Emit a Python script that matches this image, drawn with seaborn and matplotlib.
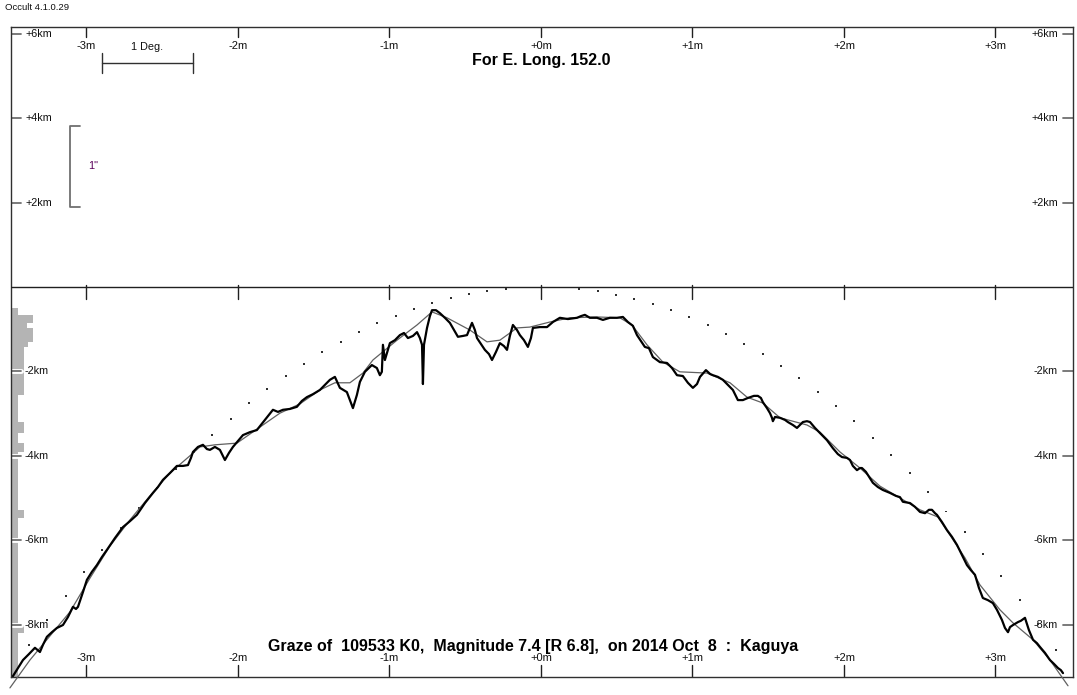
import matplotlib
matplotlib.use("Agg")
import matplotlib.pyplot as plt
import matplotlib.transforms as mtransforms
import seaborn as sns

# ---------------- data (minutes of time from central meridian / km) ----------------
prof_x = [-3.485, -3.452, -3.419, -3.380, -3.340, -3.307, -3.287, -3.261, -3.228, -3.195,
          -3.155, -3.122, -3.089, -3.069, -3.056, -3.023, -2.997, -2.964, -2.931, -2.898,
          -2.865, -2.812, -2.759, -2.713, -2.667, -2.614, -2.561, -2.528, -2.495, -2.449,
          -2.403, -2.363, -2.330, -2.310, -2.297, -2.264, -2.231, -2.205, -2.185, -2.152,
          -2.119, -2.086, -2.059, -2.033, -2.000, -1.967, -1.921, -1.875, -1.822, -1.769,
          -1.736, -1.703, -1.657, -1.611, -1.578, -1.545, -1.505, -1.459, -1.426, -1.393,
          -1.360, -1.327, -1.281, -1.241, -1.215, -1.195, -1.162, -1.116, -1.083, -1.063,
          -1.050, -1.043, -1.030, -0.997, -0.964, -0.931, -0.904, -0.878, -0.845, -0.818,
          -0.799, -0.785, -0.779, -0.772, -0.752, -0.733, -0.719, -0.693, -0.667, -0.634,
          -0.601, -0.574, -0.548, -0.515, -0.488, -0.469, -0.455, -0.436, -0.422, -0.396,
          -0.370, -0.343, -0.323, -0.297, -0.271, -0.244, -0.224, -0.205, -0.185, -0.158,
          -0.139, -0.112, -0.086, -0.066, -0.053, -0.007, 0.040, 0.079, 0.125, 0.178,
          0.238, 0.264, 0.290, 0.323, 0.370, 0.409, 0.455, 0.502, 0.541, 0.574,
          0.607, 0.634, 0.660, 0.686, 0.713, 0.739, 0.785, 0.832, 0.865, 0.898,
          0.937, 0.970, 1.003, 1.030, 1.050, 1.089, 1.116, 1.135, 1.168, 1.201,
          1.234, 1.267, 1.300, 1.333, 1.366, 1.406, 1.432, 1.452, 1.465, 1.492,
          1.512, 1.525, 1.531, 1.545, 1.578, 1.611, 1.630, 1.663, 1.690, 1.710,
          1.729, 1.756, 1.776, 1.809, 1.842, 1.888, 1.927, 1.960, 1.987, 2.020,
          2.040, 2.059, 2.086, 2.106, 2.119, 2.145, 2.172, 2.191, 2.224, 2.257,
          2.304, 2.343, 2.370, 2.389, 2.436, 2.469, 2.502, 2.535, 2.561, 2.581,
          2.601, 2.614, 2.647, 2.680, 2.713, 2.746, 2.779, 2.812, 2.838, 2.865,
          2.891, 2.917, 2.950, 2.983, 3.010, 3.043, 3.063, 3.083, 3.096, 3.116,
          3.149, 3.168, 3.195, 3.221, 3.248, 3.274, 3.294, 3.327, 3.360, 3.386,
          3.413, 3.432, 3.446]
prof_y = [-9.22, -9.03, -8.84, -8.70, -8.55, -8.65, -8.48, -8.29, -8.18, -8.08,
          -8.01, -7.82, -7.58, -7.63, -7.58, -7.23, -6.94, -6.75, -6.59, -6.40,
          -6.23, -5.95, -5.69, -5.55, -5.40, -5.12, -4.88, -4.74, -4.57, -4.41,
          -4.24, -4.24, -4.22, -4.05, -3.91, -3.79, -3.74, -3.84, -3.86, -3.79,
          -3.86, -4.10, -3.93, -3.79, -3.65, -3.51, -3.44, -3.39, -3.15, -2.91,
          -2.96, -2.91, -2.89, -2.84, -2.70, -2.61, -2.54, -2.44, -2.32, -2.20,
          -2.13, -2.39, -2.49, -2.87, -2.56, -2.25, -2.01, -1.85, -1.92, -2.09,
          -2.01, -1.37, -1.73, -1.33, -1.26, -1.14, -1.09, -1.21, -1.16, -1.07,
          -1.21, -1.37, -2.30, -1.37, -0.97, -0.69, -0.55, -0.55, -0.62, -0.73,
          -0.85, -1.02, -1.18, -1.16, -1.14, -0.97, -0.85, -1.02, -1.21, -1.35,
          -1.49, -1.59, -1.73, -1.54, -1.33, -1.40, -1.49, -1.16, -0.90, -1.02,
          -1.14, -1.26, -1.42, -1.21, -0.97, -0.95, -0.95, -0.83, -0.73, -0.76,
          -0.73, -0.69, -0.66, -0.73, -0.73, -0.78, -0.73, -0.73, -0.71, -0.83,
          -0.92, -1.14, -1.28, -1.42, -1.45, -1.66, -1.78, -1.80, -1.92, -2.09,
          -2.11, -2.27, -2.39, -2.30, -2.13, -1.97, -2.06, -2.09, -2.13, -2.20,
          -2.32, -2.44, -2.68, -2.68, -2.63, -2.58, -2.58, -2.63, -2.73, -2.87,
          -2.99, -3.10, -3.18, -3.08, -3.10, -3.15, -3.20, -3.27, -3.34, -3.27,
          -3.20, -3.18, -3.20, -3.34, -3.46, -3.63, -3.82, -3.96, -4.03, -4.05,
          -4.10, -4.24, -4.34, -4.29, -4.29, -4.38, -4.53, -4.64, -4.74, -4.81,
          -4.88, -4.95, -4.98, -5.09, -5.12, -5.21, -5.33, -5.36, -5.28, -5.28,
          -5.36, -5.40, -5.57, -5.76, -5.92, -6.11, -6.35, -6.59, -6.71, -6.82,
          -7.13, -7.37, -7.42, -7.49, -7.65, -7.89, -8.08, -8.18, -8.06, -8.01,
          -7.94, -7.91, -7.84, -8.13, -8.36, -8.44, -8.53, -8.67, -8.84, -8.93,
          -9.03, -9.08, -9.15]

smooth_x = [-3.505, -3.373, -3.241, -3.109, -2.977, -2.845, -2.713, -2.581, -2.449, -2.317,
            -2.251, -2.152, -2.007, -1.855, -1.723, -1.591, -1.459, -1.360, -1.261, -1.175,
            -1.109, -0.950, -0.818, -0.719, -0.620, -0.469, -0.356, -0.271, -0.158, -0.073,
            0.059, 0.191, 0.370, 0.521, 0.601, 0.700, 0.805, 0.917, 1.096, 1.248,
            1.360, 1.465, 1.578, 1.756, 1.842, 1.974, 2.106, 2.238, 2.370, 2.502,
            2.620, 2.700, 2.799, 2.898, 3.030, 3.116, 3.248, 3.360, 3.479]
smooth_y = [-9.50, -8.84, -8.27, -7.70, -6.90, -6.14, -5.52, -4.95, -4.41, -4.00,
            -3.79, -3.74, -3.70, -3.32, -2.99, -2.77, -2.44, -2.27, -2.27, -2.04,
            -1.73, -1.26, -0.90, -0.59, -0.73, -1.02, -1.30, -1.26, -0.97, -0.95,
            -0.83, -0.73, -0.71, -0.73, -0.90, -1.37, -1.78, -2.01, -2.04, -2.27,
            -2.61, -2.75, -3.10, -3.27, -3.44, -3.91, -4.29, -4.72, -5.00, -5.28,
            -5.45, -5.88, -6.42, -7.06, -7.65, -7.96, -8.36, -8.84, -9.45]

limb_x = [-3.380, -3.259, -3.138, -3.017, -2.896, -2.775, -2.654, -2.532, -2.411, -2.290,
          -2.169, -2.048, -1.927, -1.806, -1.685, -1.564, -1.442, -1.321, -1.200, -1.079,
          -0.958, -0.837, -0.716, -0.595, -0.474, -0.353, -0.231,
          0.253, 0.374, 0.495, 0.616, 0.737, 0.858, 0.980, 1.101, 1.222, 1.343,
          1.464, 1.585, 1.706, 1.827, 1.948, 2.069, 2.191, 2.312, 2.433, 2.554,
          2.675, 2.796, 2.917, 3.038, 3.159, 3.280, 3.402]
limb_y = [-8.49, -7.89, -7.32, -6.76, -6.23, -5.72, -5.23, -4.76, -4.32, -3.90,
          -3.50, -3.12, -2.76, -2.42, -2.11, -1.82, -1.54, -1.30, -1.07, -0.86,
          -0.68, -0.52, -0.38, -0.26, -0.17, -0.09, -0.04,
          -0.05, -0.10, -0.18, -0.28, -0.40, -0.55, -0.71, -0.90, -1.11, -1.34,
          -1.59, -1.87, -2.16, -2.48, -2.82, -3.18, -3.57, -3.97, -4.40, -4.85,
          -5.32, -5.81, -6.32, -6.86, -7.41, -7.99, -8.60]

# event-count histogram along the left edge (km bands, bar length in minutes)
hist_top = [-0.50, -0.66, -0.85, -0.97, -1.30, -1.42, -2.56, -3.20, -3.46, -3.69,
            -3.91, -5.28, -5.47, -8.00, -8.19]
hist_bot = [-0.66, -0.85, -0.97, -1.30, -1.42, -2.56, -3.20, -3.46, -3.69, -3.91,
            -5.28, -5.47, -8.00, -8.19, -9.24]
hist_len = [0.040, 0.139, 0.099, 0.139, 0.106, 0.079, 0.040, 0.079, 0.040, 0.079,
            0.040, 0.079, 0.040, 0.079, 0.040]

x_ticks = [-3, -2, -1, 0, 1, 2, 3]
x_labels = ["-3m", "-2m", "-1m", "+0m", "+1m", "+2m", "+3m"]
y_ticks_up = [6, 4, 2]
y_labels_up = ["+6km", "+4km", "+2km"]
y_ticks_dn = [-2, -4, -6, -8]
y_labels_dn = ["-2km", "-4km", "-6km", "-8km"]

title_top = "For E. Long. 152.0"
title_bottom = "Graze of  109533 K0,  Magnitude 7.4 [R 6.8],  on 2014 Oct  8  :  Kaguya"
version = "Occult 4.1.0.29"

# ---------------- figure ----------------
sns.set_theme(style="white")
plt.rcParams['font.family'] = ['Liberation Sans', 'DejaVu Sans']

W, H = 1077, 695
fig = plt.figure(figsize=(W / 100, H / 100), dpi=100)
fig.patch.set_facecolor("white")
ax = fig.add_axes([11 / W, 18 / H, 1062 / W, 650 / H])
XL, XR = -3.498, 3.512
YB, YT = -9.242, 6.161
ax.set_xlim(XL, XR)
ax.set_ylim(YB, YT)
ax.set_xticks([])
ax.set_yticks([])
ax.set_facecolor("white")
for s in ax.spines.values():
    s.set_color("#303030")
    s.set_linewidth(1.0)

axw, axh = 1062.0, 650.0
tr_xa = mtransforms.blended_transform_factory(ax.transData, ax.transAxes)
tr_ay = mtransforms.blended_transform_factory(ax.transAxes, ax.transData)

# histogram
centers = [(a + b) / 2 for a, b in zip(hist_top, hist_bot)]
heights = [a - b for a, b in zip(hist_top, hist_bot)]
ax.barh(y=centers, width=hist_len, height=heights, left=XL + 0.006,
        color="#b4b4b4", linewidth=0, zorder=1)

# centre line
ax.axhline(0, color="#202020", lw=1.0, zorder=3)

# limb dots, smoothed profile, observed profile
sns.scatterplot(x=limb_x, y=limb_y, ax=ax, marker="s", s=2.0, color="#303030",
                edgecolor="none", linewidth=0, zorder=4)
sns.lineplot(x=smooth_x, y=smooth_y, ax=ax, color="#606060", lw=0.9,
             sort=False, estimator=None, zorder=4)
ax.lines[-1].set_clip_on(False)
sns.lineplot(x=prof_x, y=prof_y, ax=ax, color="black", lw=1.6,
             sort=False, estimator=None, zorder=5)

# x ticks: top, centre line, bottom
for xv, lab in zip(x_ticks, x_labels):
    ax.plot([xv, xv], [1, 1 - 10 / axh], transform=tr_xa, color="#202020", lw=1.0)
    ax.text(xv, 1 - 19 / axh, lab, transform=tr_xa, ha="center", va="center",
            fontsize=8, color="#101010")
    ax.plot([xv, xv], [0.05, -0.28], color="#202020", lw=1.0, zorder=3)
    ax.plot([xv, xv], [0, 12 / axh], transform=tr_xa, color="#202020", lw=1.0)
    ax.text(xv, 19 / axh, lab, transform=tr_xa, ha="center", va="center",
            fontsize=8, color="#101010")

# y ticks
for yv, lab in zip(y_ticks_up, y_labels_up):
    ax.plot([0, 10 / axw], [yv, yv], transform=tr_ay, color="#707070", lw=1.3)
    ax.plot([1 - 10 / axw, 1], [yv, yv], transform=tr_ay, color="#707070", lw=1.3)
    ax.text(14 / axw, yv, lab, transform=tr_ay, ha="left", va="center",
            fontsize=7.8, color="#101010")
    ax.text(1 - 15 / axw, yv, lab, transform=tr_ay, ha="right", va="center",
            fontsize=7.8, color="#101010")
for yv, lab in zip(y_ticks_dn, y_labels_dn):
    ax.plot([0, 10 / axw], [yv, yv], transform=tr_ay, color="white", lw=3.5, zorder=2)
    ax.plot([0, 10 / axw], [yv, yv], transform=tr_ay, color="#707070", lw=1.3, zorder=2)
    ax.plot([1 - 10 / axw, 1], [yv, yv], transform=tr_ay, color="#707070", lw=1.3)
    ax.text(14 / axw, yv, lab, transform=tr_ay, ha="left", va="center",
            fontsize=7.8, color="#101010")
    ax.text(1 - 15 / axw, yv, lab, transform=tr_ay, ha="right", va="center",
            fontsize=7.8, color="#101010")

# scale bars in the upper panel
ax.plot([-2.898, -2.297], [5.31, 5.31], color="#303030", lw=1.0)
ax.plot([-2.898, -2.898], [5.07, 5.55], color="#303030", lw=1.0)
ax.plot([-2.297, -2.297], [5.07, 5.55], color="#303030", lw=1.0)
ax.text(-2.597, 5.69, "1 Deg.", ha="center", va="center", fontsize=7.8, color="#101010")
ax.plot([-3.043, -3.109, -3.109, -3.043], [3.815, 3.815, 1.896, 1.896],
        color="#707070", lw=1.3)
ax.text(-2.99, 2.87, '1"', ha="left", va="center", fontsize=7.8, color="#5a005a")

# titles
ax.text(0.499, 1 - 34 / axh, title_top, transform=ax.transAxes, ha="center",
        va="center", fontsize=11.5, fontweight="bold", color="black")
ax.text(0.492, 30 / axh, title_bottom, transform=ax.transAxes, ha="center",
        va="center", fontsize=11.5, fontweight="bold", color="black")
fig.text(5 / W, 1 - 8 / H, version, ha="left", va="center", fontsize=6.8, color="#101010")

fig.savefig("out.png", dpi=100, facecolor="white")
